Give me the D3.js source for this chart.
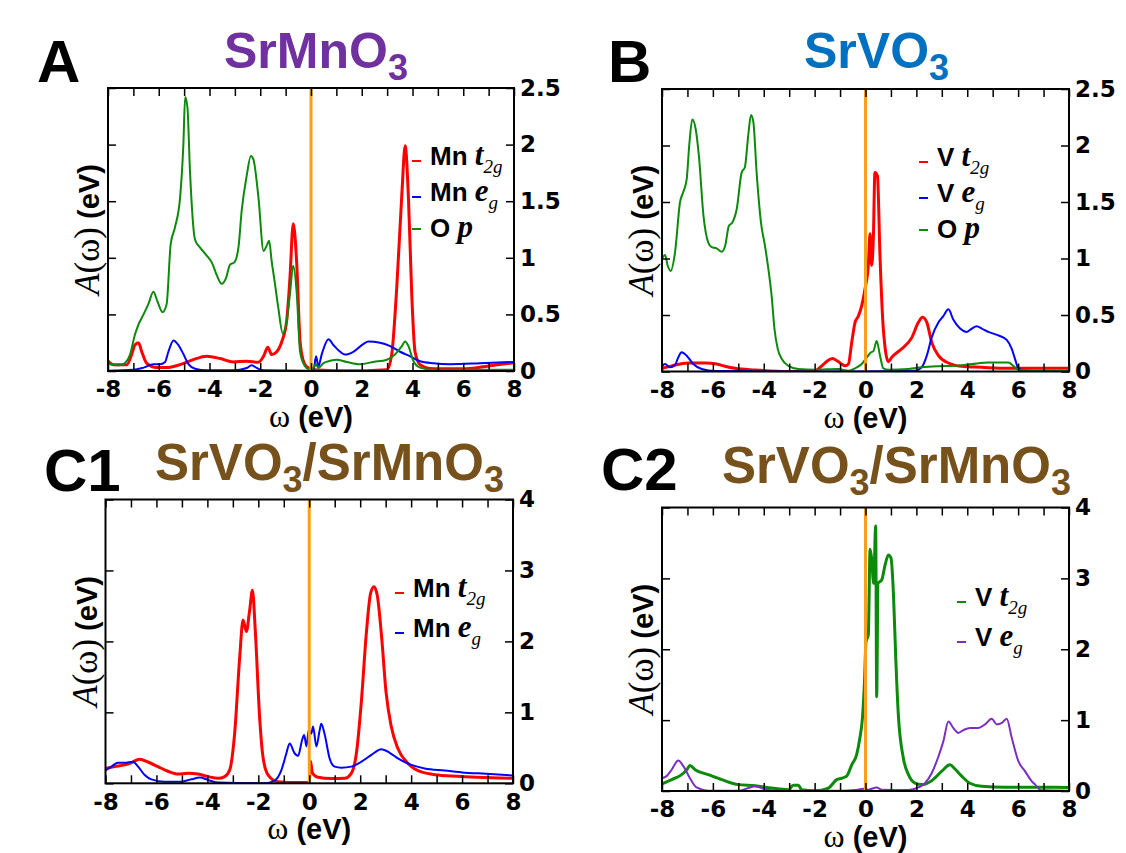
<!DOCTYPE html>
<html>
<head>
<meta charset="utf-8">
<script src="https://cdn.jsdelivr.net/npm/d3@7"></script>
<style>
  body { margin: 0; background: #fff; }
  svg { display: block; }
  .tick text { font-family: "DejaVu Sans", sans-serif; font-weight: bold; font-size: 23px; fill: #000; }
  .tick line { stroke: #000; stroke-width: 1.5; }
  .sans { font-family: "Liberation Sans", Arial, sans-serif; font-weight: bold; }
  .serif { font-family: "Liberation Serif", "Times New Roman", serif; }
  .serif-it { font-family: "Liberation Serif", "Times New Roman", serif; font-style: italic; }
</style>
</head>
<body>
<svg id="fig" width="1126" height="853"></svg>
<script>
// ---- data (omega in eV, A(omega)) ----
const A_MN_T2G = [[-8,0.09],[-7.79,0.056],[-7.26,0.056],[-7.07,0.145],[-6.94,0.23],[-6.8,0.25],[-6.67,0.17],[-6.48,0.07],[-6.08,0.03],[-5.69,0.03],[-5.16,0.056],[-4.64,0.1],[-4.11,0.13],[-3.58,0.11],[-3.06,0.08],[-2.53,0.086],[-2.07,0.077],[-1.87,0.13],[-1.7,0.21],[-1.55,0.145],[-1.35,0.17],[-1.15,0.26],[-0.96,0.44],[-0.83,0.82],[-0.7,1.3],[-0.56,0.94],[-0.43,0.26],[-0.27,0.07],[-0.1,0.027],[0.1,0.01],[0.88,0.003],[2.2,0.003],[2.99,0.01],[3.18,0.145],[3.38,0.74],[3.58,1.56],[3.71,1.99],[3.84,1.53],[3.97,0.68],[4.1,0.17],[4.3,0.056],[4.83,0.02],[6.14,0.02],[7,0.045],[8,0.074]];
const A_MN_EG = [[-8,0.003],[-7,0.01],[-6.6,0.03],[-6.21,0.06],[-5.95,0.06],[-5.75,0.08],[-5.62,0.17],[-5.42,0.27],[-5.23,0.23],[-5.03,0.15],[-4.83,0.06],[-4.57,0.02],[-4.11,0.006],[-3.06,0.006],[-2.53,0.027],[-2.34,0.05],[-2.14,0.027],[-1.87,0.006],[-0.17,0.003],[0.1,0.01],[0.2,0.13],[0.29,0.04],[0.42,0.145],[0.69,0.28],[0.88,0.23],[1.15,0.17],[1.34,0.145],[1.67,0.17],[2.07,0.24],[2.26,0.26],[2.72,0.25],[3.12,0.22],[3.51,0.17],[3.91,0.13],[4.3,0.086],[4.83,0.068],[5.48,0.06],[6.66,0.068],[8,0.08]];
const A_O_P = [[-8,0.07],[-7.79,0.056],[-7.53,0.05],[-7.33,0.07],[-7.13,0.145],[-6.94,0.32],[-6.8,0.41],[-6.6,0.5],[-6.41,0.59],[-6.21,0.7],[-6.06,0.62],[-5.85,0.52],[-5.69,0.59],[-5.53,1.12],[-5.36,1.27],[-5.16,1.53],[-5.03,2.0],[-4.96,2.42],[-4.87,2.33],[-4.77,1.77],[-4.57,1.16],[-4.37,1.09],[-4.11,1.02],[-3.91,0.96],[-3.72,0.85],[-3.52,0.77],[-3.35,0.82],[-3.19,0.94],[-3.02,0.96],[-2.86,1.09],[-2.73,1.42],[-2.53,1.73],[-2.37,1.9],[-2.27,1.87],[-2.07,1.53],[-1.87,1.06],[-1.74,1.11],[-1.65,1.15],[-1.55,0.97],[-1.42,0.77],[-1.29,0.56],[-1.11,0.33],[-0.96,0.44],[-0.83,0.68],[-0.7,0.93],[-0.56,0.68],[-0.43,0.17],[-0.27,0.056],[-0.1,0.02],[0.1,0.03],[0.2,0.06],[0.29,0.027],[0.49,0.07],[0.75,0.09],[1.01,0.1],[1.41,0.08],[1.93,0.06],[2.46,0.08],[2.99,0.1],[3.31,0.145],[3.58,0.22],[3.71,0.26],[3.84,0.22],[4.04,0.086],[4.3,0.03],[4.83,0.01],[6.66,0.01],[8,0.01]];

const B_V_T2G = [[-8,0.028],[-7.62,0.05],[-6.96,0.075],[-6.31,0.075],[-5.85,0.066],[-5.52,0.046],[-5.13,0.028],[-4.34,0.013],[-3.03,0],[-1.98,0.007],[-1.72,0.05],[-1.46,0.1],[-1.3,0.116],[-1.07,0.087],[-0.8,0.05],[-0.67,0.066],[-0.54,0.26],[-0.41,0.435],[-0.28,0.49],[-0.15,0.58],[-0.02,0.73],[0.11,0.94],[0.18,1.22],[0.24,0.94],[0.31,1.19],[0.37,1.76],[0.47,1.73],[0.57,1.02],[0.7,0.38],[0.9,0.087],[1.03,0.125],[1.42,0.2],[1.82,0.3],[2.08,0.435],[2.24,0.48],[2.41,0.435],[2.6,0.26],[2.87,0.14],[3.26,0.075],[3.78,0.046],[4.57,0.037],[5.62,0.028],[8,0.028]];
const B_V_EG = [[-8,0.05],[-7.88,0.066],[-7.69,0.037],[-7.49,0.057],[-7.36,0.125],[-7.23,0.17],[-7.03,0.14],[-6.77,0.066],[-6.44,0.022],[-5.92,0.004],[-4.87,0.007],[-4.34,0],[-0.15,0],[1.95,0.007],[2.21,0.037],[2.41,0.14],[2.6,0.3],[2.87,0.435],[3.06,0.49],[3.26,0.55],[3.45,0.46],[3.72,0.38],[3.98,0.35],[4.18,0.38],[4.37,0.4],[4.57,0.38],[4.83,0.35],[5.22,0.32],[5.55,0.28],[5.75,0.2],[5.88,0.11],[6.01,0.028],[6.27,0.007],[8,0]];
const B_O_P = [[-8,1.0],[-7.88,1.03],[-7.78,0.94],[-7.66,0.89],[-7.49,1.05],[-7.29,1.5],[-7.16,1.59],[-7.03,1.7],[-6.93,2.0],[-6.81,2.23],[-6.68,2.15],[-6.55,1.91],[-6.37,1.38],[-6.18,1.14],[-6.05,1.1],[-5.85,1.09],[-5.65,1.06],[-5.52,1.11],[-5.37,1.29],[-5.23,1.32],[-5.06,1.44],[-4.87,1.76],[-4.74,1.81],[-4.61,2.09],[-4.5,2.27],[-4.41,2.21],[-4.28,1.76],[-4.11,1.32],[-3.95,1.11],[-3.82,0.91],[-3.69,0.67],[-3.58,0.38],[-3.45,0.2],[-3.29,0.11],[-3.03,0.05],[-2.64,0.022],[-1.98,0.016],[-1.07,0.022],[-0.67,0.007],[-0.41,0.028],[-0.15,0.066],[0.05,0.125],[0.22,0.17],[0.31,0.18],[0.44,0.27],[0.57,0.14],[0.7,0.028],[0.9,0.016],[1.69,0.022],[2.21,0.037],[2.87,0.046],[3.52,0.05],[4.18,0.066],[4.83,0.08],[5.62,0.08],[5.81,0.05],[6.01,0.016],[6.67,0.007],[8,0.005]];

const C1_MN_T2G = [[-8,0.21],[-7.64,0.235],[-7.25,0.26],[-6.99,0.29],[-6.66,0.34],[-6.33,0.3],[-5.94,0.235],[-5.55,0.17],[-5.15,0.13],[-4.76,0.14],[-4.37,0.13],[-3.97,0.094],[-3.58,0.07],[-3.32,0.094],[-3.12,0.19],[-2.93,0.7],[-2.73,1.78],[-2.6,2.3],[-2.47,2.14],[-2.34,2.44],[-2.23,2.72],[-2.12,2.16],[-1.95,0.94],[-1.82,0.38],[-1.62,0.12],[-1.23,0.023],[-0.44,0.01],[0,0.01],[0.05,0.31],[0.12,0.15],[0.3,0.09],[0.87,0.066],[1.39,0.07],[1.65,0.14],[1.85,0.42],[2.05,1.17],[2.24,2.11],[2.41,2.68],[2.54,2.77],[2.67,2.65],[2.83,2.11],[3.02,1.27],[3.22,0.8],[3.48,0.49],[3.88,0.28],[4.4,0.16],[5.06,0.117],[6.1,0.094],[6.63,0.085],[8,0.07]];
const C1_MN_EG = [[-8,0.18],[-7.77,0.235],[-7.51,0.29],[-7.25,0.29],[-6.92,0.305],[-6.72,0.235],[-6.46,0.117],[-6.2,0.056],[-5.68,0.023],[-5.02,0.023],[-4.63,0.056],[-4.3,0.08],[-3.97,0.047],[-3.58,0.01],[-1.75,0],[-1.36,0.038],[-1.09,0.19],[-0.9,0.42],[-0.77,0.56],[-0.57,0.42],[-0.44,0.385],[-0.28,0.61],[-0.2,0.68],[-0.11,0.52],[-0.02,0.75],[0.08,0.7],[0.15,0.8],[0.28,0.52],[0.41,0.75],[0.47,0.84],[0.6,0.7],[0.8,0.35],[1.0,0.235],[1.26,0.22],[1.65,0.235],[2.05,0.305],[2.44,0.4],[2.83,0.48],[3.16,0.43],[3.48,0.35],[4.01,0.26],[4.53,0.21],[5.32,0.18],[6.1,0.15],[6.63,0.14],[8,0.11]];

const C2_V_T2G = [[-8,0.1],[-7.62,0.16],[-7.16,0.25],[-7.03,0.3],[-6.9,0.36],[-6.7,0.3],[-6.18,0.23],[-5.65,0.16],[-5.0,0.09],[-4.34,0.075],[-3.69,0.042],[-3.03,0.019],[-2.84,0.08],[-2.64,0.08],[-2.51,0.019],[-1.98,0.005],[-1.46,0.042],[-1.13,0.16],[-0.94,0.18],[-0.74,0.21],[-0.54,0.37],[-0.35,0.51],[-0.22,0.75],[-0.12,1.03],[-0.04,1.54],[0.02,2.11],[0.11,2.2],[0.18,3.41],[0.24,3.28],[0.32,2.93],[0.4,3.74],[0.44,1.33],[0.49,2.93],[0.64,2.98],[0.77,3.19],[0.9,3.33],[1.0,3.29],[1.1,2.77],[1.19,1.87],[1.29,1.08],[1.49,0.46],[1.69,0.23],[1.95,0.11],[2.21,0.09],[2.6,0.146],[3.0,0.28],[3.32,0.37],[3.52,0.31],[3.78,0.21],[4.11,0.11],[4.57,0.066],[5.49,0.052],[6.67,0.052],[8,0.05]];
const C2_V_EG = [[-8,0.18],[-7.82,0.21],[-7.62,0.3],[-7.36,0.43],[-7.16,0.35],[-6.9,0.18],[-6.64,0.05],[-6.18,0.005],[-5.0,0.005],[-4.6,0.042],[-4.34,0.066],[-4.02,0.033],[-3.56,0.005],[-0.94,0.005],[-0.41,0.014],[-0.08,0.033],[0.11,0.019],[0.44,0.05],[0.64,0.019],[1.69,0.014],[2.08,0.05],[2.34,0.11],[2.6,0.25],[2.87,0.49],[3.06,0.7],[3.26,0.98],[3.45,0.89],[3.65,0.82],[3.85,0.86],[4.11,0.89],[4.44,0.89],[4.7,0.94],[4.96,1.02],[5.16,0.94],[5.36,0.96],[5.55,1.02],[5.75,0.75],[6.01,0.42],[6.27,0.28],[6.53,0.14],[6.67,0.09],[6.9,0.01],[8,0.005]];

const X_DOMAIN = [-8, 8];
const X_TICKS  = d3.range(-8, 9, 1);

const RED = '#ff0000', BLUE = '#0000ff', GREEN = '#0b8a0b', PURPLE = '#7b2fc2', ORANGE = '#f7a11a';
const BROWN = '#77511b';

const panels = [
  { label: 'A', labelX: 37, labelY: 82,
    left: 108, right: 514, top: 88, bottom: 371, yMax: 2.5, yStep: 0.5,
    title: [['SrMnO'], ['3', 1]], titleColor: '#7030a0', titleX: 224, titleY: 68, titleSize: 50,
    series: [
      { data: A_MN_T2G, color: RED,   width: 3, name: 'Mn', sym: 't', sub: '2g' },
      { data: A_MN_EG,  color: BLUE,  width: 2, name: 'Mn', sym: 'e', sub: 'g' },
      { data: A_O_P,    color: GREEN, width: 2, name: 'O',  sym: 'p', sub: '' }
    ],
    legend: { x: 412, y: 165, dy: 36 } },
  { label: 'B', labelX: 608, labelY: 82,
    left: 662, right: 1069, top: 89, bottom: 371.5, yMax: 2.5, yStep: 0.5,
    title: [['SrVO'], ['3', 1]], titleColor: '#0070c0', titleX: 804, titleY: 68, titleSize: 50,
    series: [
      { data: B_V_T2G, color: RED,   width: 3, name: 'V', sym: 't', sub: '2g' },
      { data: B_V_EG,  color: BLUE,  width: 2, name: 'V', sym: 'e', sub: 'g' },
      { data: B_O_P,   color: GREEN, width: 2, name: 'O', sym: 'p', sub: '' }
    ],
    legend: { x: 919, y: 166, dy: 36 } },
  { label: 'C1', labelX: 44, labelY: 491,
    left: 105.5, right: 513, top: 499.5, bottom: 783.3, yMax: 4, yStep: 1,
    title: [['SrVO'], ['3', 1], ['/SrMnO'], ['3', 1]], titleColor: BROWN, titleX: 155, titleY: 480, titleSize: 51,
    series: [
      { data: C1_MN_T2G, color: RED,  width: 3, name: 'Mn', sym: 't', sub: '2g' },
      { data: C1_MN_EG,  color: BLUE, width: 2, name: 'Mn', sym: 'e', sub: 'g' }
    ],
    legend: { x: 395, y: 597, dy: 40 } },
  { label: 'C2', labelX: 601, labelY: 490,
    left: 662, right: 1069, top: 507.5, bottom: 791, yMax: 4, yStep: 1,
    title: [['SrVO'], ['3', 1], ['/SrMnO'], ['3', 1]], titleColor: BROWN, titleX: 722, titleY: 483, titleSize: 51,
    series: [
      { data: C2_V_T2G, color: GREEN,  width: 3, name: 'V', sym: 't', sub: '2g' },
      { data: C2_V_EG,  color: PURPLE, width: 2, name: 'V', sym: 'e', sub: 'g' }
    ],
    legend: { x: 957, y: 606, dy: 40 } }
];

const svg = d3.select('#fig');
panels.forEach(drawPanel);

function drawPanel(p) {
  const x = d3.scaleLinear().domain(X_DOMAIN).range([p.left, p.right]);
  const y = d3.scaleLinear().domain([0, p.yMax]).range([p.bottom, p.top]);
  const g = svg.append('g');
  const clipId = 'clip-' + p.label;

  g.append('clipPath').attr('id', clipId)
    .append('rect')
    .attr('x', p.left).attr('y', p.top)
    .attr('width', p.right - p.left).attr('height', p.bottom - p.top);

  const line = d3.line()
    .x(d => x(d[0]))
    .y(d => y(d[1]))
    .curve(d3.curveMonotoneX);

  p.series.forEach(s => {
    g.append('path')
      .datum(s.data)
      .attr('clip-path', `url(#${clipId})`)
      .attr('fill', 'none')
      .attr('stroke', s.color)
      .attr('stroke-width', s.width)
      .attr('stroke-linejoin', 'round')
      .attr('d', line);
  });

  // Fermi level
  g.append('line')
    .attr('x1', x(0)).attr('x2', x(0))
    .attr('y1', p.top).attr('y2', p.bottom)
    .attr('stroke', ORANGE).attr('stroke-width', 3);

  // axes, ticks pointing inward
  const yTicks = d3.range(0, p.yMax + 1e-9, p.yStep);
  g.append('g')
    .attr('transform', `translate(0,${p.bottom})`)
    .call(d3.axisBottom(x).tickValues(X_TICKS).tickSize(-8).tickSizeOuter(0).tickPadding(10)
      .tickFormat(d => d % 2 === 0 ? String(d) : ''));
  g.append('g')
    .attr('transform', `translate(0,${p.top})`)
    .call(d3.axisTop(x).tickValues(X_TICKS).tickSize(-8).tickSizeOuter(0).tickFormat(''));
  g.append('g')
    .attr('transform', `translate(${p.left},0)`)
    .call(d3.axisLeft(y).tickValues(yTicks).tickSize(-8).tickSizeOuter(0).tickFormat(''));
  g.append('g')
    .attr('transform', `translate(${p.right},0)`)
    .call(d3.axisRight(y).tickValues(yTicks).tickSize(-8).tickSizeOuter(0).tickPadding(6)
      .tickFormat(d => String(+d.toFixed(1))));
  g.selectAll('.domain').remove();

  g.append('rect')
    .attr('x', p.left).attr('y', p.top)
    .attr('width', p.right - p.left).attr('height', p.bottom - p.top)
    .attr('fill', 'none').attr('stroke', '#000').attr('stroke-width', 2);

  // panel letter
  g.append('text')
    .attr('class', 'sans')
    .attr('x', p.labelX).attr('y', p.labelY)
    .attr('font-size', 60)
    .text(p.label);

  // title with subscripts
  const title = g.append('text')
    .attr('class', 'sans')
    .attr('x', p.titleX).attr('y', p.titleY)
    .attr('font-size', p.titleSize)
    .attr('fill', p.titleColor);
  let shifted = false;
  p.title.forEach(([txt, sub]) => {
    const ts = title.append('tspan').text(txt);
    if (sub) { ts.attr('font-size', 36).attr('dy', 12); shifted = true; }
    else if (shifted) { ts.attr('dy', -12); shifted = false; }
  });

  // axis titles
  const cy = (p.top + p.bottom) / 2;
  const yl = g.append('text')
    .attr('transform', `translate(${p.left - 9},${cy}) rotate(-90)`)
    .attr('text-anchor', 'middle');
  yl.append('tspan').attr('class', 'serif-it').attr('font-size', 35).text('A');
  yl.append('tspan').attr('class', 'serif').attr('font-size', 35).text('(ω)');
  yl.append('tspan').attr('class', 'sans').attr('font-size', 29).text(' (eV)');

  const xl = g.append('text')
    .attr('x', (p.left + p.right) / 2).attr('y', p.bottom + 56)
    .attr('text-anchor', 'middle');
  xl.append('tspan').attr('class', 'serif').attr('font-size', 32).text('ω');
  xl.append('tspan').attr('class', 'sans').attr('font-size', 29).text(' (eV)');

  // legend
  const L = p.legend;
  p.series.forEach((s, i) => {
    const by = L.y + i * L.dy;
    const my = by - (s.sub ? 4 : 8);
    g.append('line')
      .attr('x1', L.x).attr('x2', L.x + 9)
      .attr('y1', my).attr('y2', my)
      .attr('stroke', s.color).attr('stroke-width', 2);
    const t = g.append('text').attr('x', L.x + 18).attr('y', by);
    t.append('tspan').attr('class', 'sans').attr('font-size', 26).text(s.name + ' ');
    t.append('tspan').attr('class', 'serif-it').attr('font-weight', 'bold')
      .attr('font-size', 31).text(s.sym);
    if (s.sub) {
      t.append('tspan').attr('class', 'serif-it').attr('font-size', 19)
        .attr('dy', 8).text(s.sub);
    }
  });
}
</script>
</body>
</html>
